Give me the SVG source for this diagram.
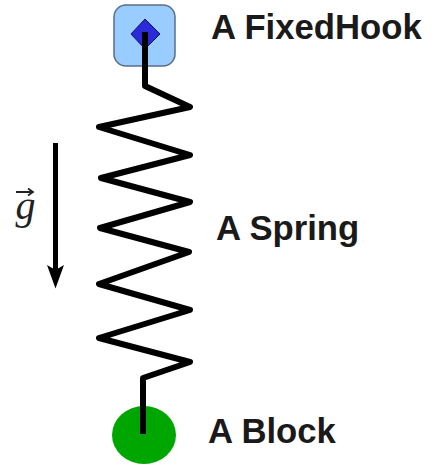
<svg xmlns="http://www.w3.org/2000/svg" width="436" height="468" viewBox="0 0 436 468">
<style>
.lbl{font-family:"Liberation Sans",Arial,sans-serif;font-weight:bold;font-size:34.700px;fill:#1a1a1a}
.wire{fill:none;stroke:#000;stroke-linejoin:round}
</style>
<rect width="436" height="468" fill="#fff"/>
<g id="hook">
<rect x="114" y="5" width="61" height="61" rx="12" fill="#99ccff" stroke="#5a6e85" stroke-width="1.500"/>
<path d="M145 19L160 34L145 49L131 34Z" fill="#2a2ad8" stroke="#10106a" stroke-width="1"/>
</g>
<g id="block">
<ellipse cx="144" cy="435" rx="32" ry="29" fill="#00a600"/>
</g>
<g id="connectors">
<path class="wire" stroke-width="6" d="M145 32V86L190 107L99 127L190 155L101 178L190 202L100 228L189 252L99 284L190 310L99 338L190 362L143 378V434"/>
<path d="M55.500 143V270" stroke="#000" stroke-width="5" fill="none"/>
<path d="M47 265L55.500 288.500L64 265L55.500 270Z" fill="#000"/>
</g>
<g id="labels">
<text class="lbl" x="211" y="39">A FixedHook</text>
<text class="lbl" x="216" y="240">A Spring</text>
<text class="lbl" x="208" y="443">A Block</text>
<text x="15.500" y="219" font-family="'Liberation Serif',serif" font-style="italic" font-size="40" fill="#222">g</text>
<path d="M16 192H32M28 188.500L33 192L28 195.500" fill="none" stroke="#222" stroke-width="1.800"/>
</g>
</svg>
